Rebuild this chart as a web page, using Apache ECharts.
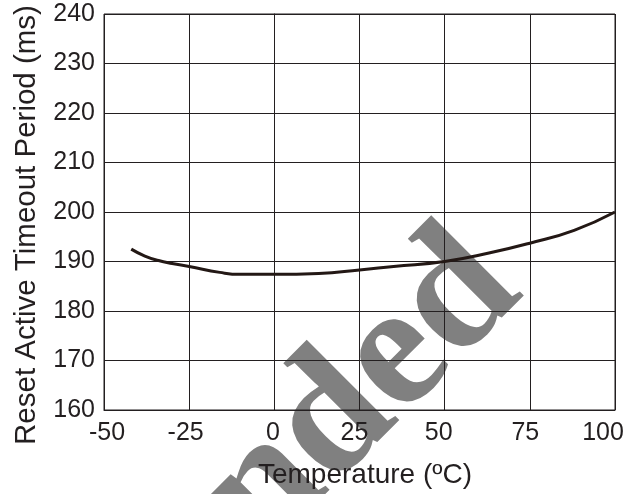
<!DOCTYPE html>
<html>
<head>
<meta charset="utf-8">
<script src="https://cdn.jsdelivr.net/npm/echarts@6/dist/echarts.min.js"></script>
<style>
html,body{margin:0;padding:0;background:#fff;}
#chart{width:638px;height:494px;}
</style>
</head>
<body>
<div id="chart"></div>
<script>
// Data
const temperatures = [-42, -38, -34, -30, -25, -16, -10, 0, 13, 25, 35, 50, 63, 75, 88, 100];
const periodMs = [192.5, 191.1, 190.2, 189.6, 189.0, 187.8, 187.4, 187.4, 187.6, 188.3, 189.0, 190.0, 191.7, 193.7, 196.3, 200.0];
const xTicks = [-50, -25, 0, 25, 50, 75, 100];
const yTicks = [160, 170, 180, 190, 200, 210, 220, 230, 240];
const xTitle = 'Temperature (ºC)';
const yTitle = 'Reset Active Timeout Period (ms)';
const watermark = 'Not Recommended';

const ink = '#231f20';
const labelShift = {'-50': 3, '-25': -3.5, '0': -1.5, '25': -5, '50': -6, '75': -4.5, '100': -12};
const rich = {};
xTicks.forEach((t, i) => {
  const s = labelShift[String(t)] || 0;
  rich['k' + i] = {
    fontFamily: 'Liberation Sans', fontSize: 25, color: ink,
    padding: s < 0 ? [0, -2 * s, 0, 0] : [0, 0, 0, 2 * s]
  };
});

const chart = echarts.init(document.getElementById('chart'), null, {renderer: 'canvas'});
chart.setOption({
  backgroundColor: '#ffffff',
  animation: false,
  grid: {
    left: 104, right: 23, top: 14, bottom: 84,
    containLabel: false, outerBoundsMode: 'none',
    show: true, borderColor: ink, borderWidth: 1, backgroundColor: 'transparent'
  },
  xAxis: {
    type: 'value', min: xTicks[0], max: xTicks[xTicks.length - 1], interval: 25,
    axisLine: {show: true, lineStyle: {color: ink, width: 1}},
    axisTick: {show: false},
    splitLine: {show: true, lineStyle: {color: ink, width: 1}},
    axisLabel: {
      margin: 11,
      formatter: function (v) {
        const i = xTicks.indexOf(v);
        return '{k' + i + '|' + v + '}';
      },
      rich: rich
    }
  },
  yAxis: {
    type: 'value', min: yTicks[0], max: yTicks[yTicks.length - 1], interval: 10,
    axisLine: {show: true, lineStyle: {color: ink, width: 1}},
    axisTick: {show: false},
    splitLine: {show: true, lineStyle: {color: ink, width: 1}},
    axisLabel: {margin: 9, fontFamily: 'Liberation Sans', fontSize: 25, color: ink}
  },
  graphic: {
    elements: [
      {
        type: 'text', z: -10, x: 493, y: 262, rotation: Math.PI / 4,
        silent: true,
        style: {
          text: watermark, fill: '#808080',
          font: 'bold 176px "Liberation Serif"',
          align: 'right', verticalAlign: 'middle'
        }
      },
      {
        type: 'text', x: 27, y: 225, rotation: Math.PI / 2,
        style: {
          text: yTitle, fill: ink, font: '29.5px "Liberation Sans"',
          align: 'center', verticalAlign: 'middle'
        }
      },
      {
        type: 'text', x: 365, y: 475,
        style: {
          text: xTitle, fill: ink, font: '28px "Liberation Sans"',
          align: 'center', verticalAlign: 'middle'
        }
      }
    ]
  },
  series: [{
    type: 'line',
    data: temperatures.map((t, i) => [t, periodMs[i]]),
    smooth: 0.5,
    showSymbol: false,
    lineStyle: {color: '#231815', width: 3}
  }]
});
</script>
</body>
</html>
